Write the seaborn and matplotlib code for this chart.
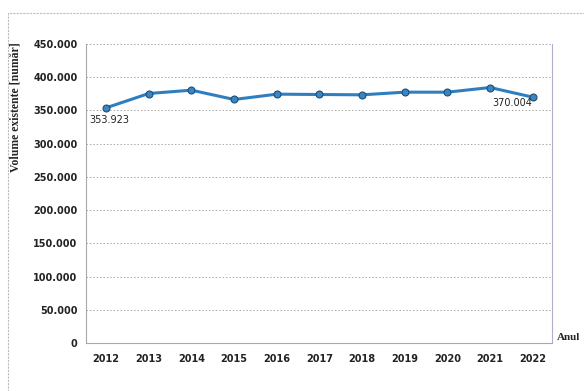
import matplotlib
matplotlib.use("Agg")
import matplotlib.pyplot as plt
import seaborn as sns
import pandas as pd
from matplotlib.patches import Rectangle
from matplotlib.ticker import FuncFormatter

years = [2012, 2013, 2014, 2015, 2016, 2017, 2018, 2019, 2020, 2021, 2022]
volumes = [353923, 375500, 380500, 366500, 374500, 374000, 373500, 377500, 377500, 384500, 370004]
yticks = [0, 50000, 100000, 150000, 200000, 250000, 300000, 350000, 400000, 450000]

sns.set_theme(style="white")
plt.rcParams['font.family'] = ['DejaVu Sans']

df = pd.DataFrame({"idx": range(len(years)), "year": years, "vol": volumes})

fig = plt.figure(figsize=(5.84, 3.91), dpi=100)
fig.patch.set_facecolor("white")
# outer frame
fig.add_artist(Rectangle((8/584, -0.05), 1.2, (391-13)/391 + 0.05, transform=fig.transFigure,
                         fill=False, edgecolor="#bcbcbc", linewidth=0.8, linestyle=(0, (2, 1))))

ax = fig.add_axes([86/584, 48/391, (552-86)/584, (343-44)/391])
sns.lineplot(data=df, x="idx", y="vol", ax=ax, color="#2f7fc0", linewidth=2.2,
             marker="o", markersize=5, markerfacecolor="#3a86c4", markeredgecolor="#1d4f78",
             markeredgewidth=0.8)

ax.set_xlim(-0.47, 10.45)
ax.set_ylim(0, 450000)
ax.set_yticks(yticks)
ax.yaxis.set_major_formatter(FuncFormatter(lambda v, p: "0" if v == 0 else f"{int(v):,}".replace(",", ".")))
ax.set_xticks(range(len(years)))
ax.set_xticklabels([str(y) for y in years])
ax.tick_params(axis="both", labelsize=7, length=0, colors="#222222")
ax.tick_params(axis="x", pad=8)
ax.tick_params(axis="y", pad=6)
for lbl in ax.get_xticklabels() + ax.get_yticklabels():
    lbl.set_fontweight("semibold")

ax.grid(axis="y", color="#a8a8a8", linestyle=(0, (1.5, 2)), linewidth=0.7)
ax.set_axisbelow(True)
for s in ["left", "bottom"]:
    ax.spines[s].set_color("#a8a8a8")
    ax.spines[s].set_linewidth(0.8)
ax.spines["right"].set_color("#b0aed0")
ax.spines["right"].set_linewidth(0.8)
ax.spines["top"].set_visible(False)

ax.set_xlabel("")
ax.set_ylabel("Volume existente [număr]", fontsize=8.5, fontweight="bold",
              family=["Liberation Serif", "DejaVu Serif"])
ax.yaxis.set_label_coords(-64/466, 0.79)

ax.annotate(f"{volumes[0]:,}".replace(",", "."), (0, volumes[0]), xytext=(-12, -9),
            textcoords="offset points", fontsize=7, ha="left", va="center", color="#222222")
ax.annotate(f"{volumes[-1]:,}".replace(",", "."), (10, volumes[-1]), xytext=(-29, -4),
            textcoords="offset points", fontsize=7, ha="left", va="center", color="#222222")

fig.text(569/584, 1 - 337/391, "Anul", fontsize=8, fontweight="bold", ha="center", va="center",
         family=["Liberation Serif", "DejaVu Serif"])

fig.savefig("out.png", dpi=100, facecolor="white")
